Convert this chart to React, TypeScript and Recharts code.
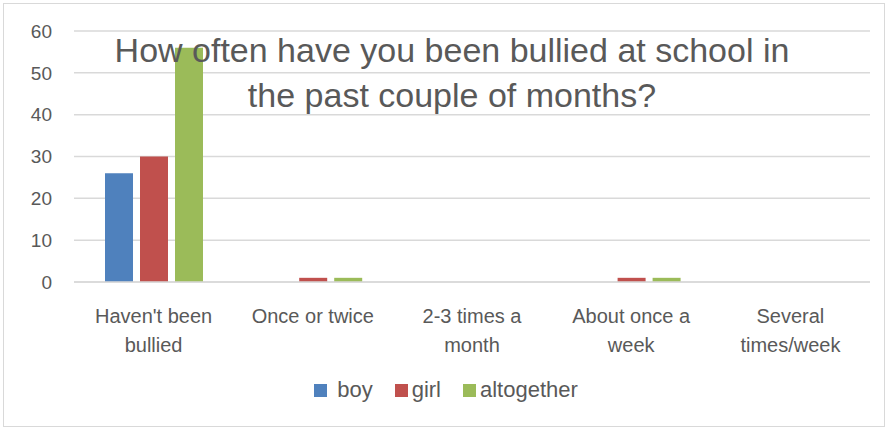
import React from 'react';
import { BarChart, Bar, XAxis, YAxis, CartesianGrid } from 'recharts';

const categories = ["Haven't been bullied", 'Once or twice', '2-3 times a month', 'About once a week', 'Several times/week'];
const tickLines = [["Haven't been", 'bullied'], ['Once or twice'], ['2-3 times a', 'month'], ['About once a', 'week'], ['Several', 'times/week']];
const seriesNames = ['boy', 'girl', 'altogether'];
const seriesColors = ['#4f81bd', '#c0504d', '#9bbb59'];
const boy = [26, 0, 0, 0, 0];
const girl = [30, 1, 0, 1, 0];
const altogether = [56, 1, 0, 1, 0];
const yTicks = [0, 10, 20, 30, 40, 50, 60];

const data = categories.map((name, i) => ({ name, boy: boy[i], girl: girl[i], altogether: altogether[i] }));

const FONT = '"Liberation Sans", Arial, sans-serif';
const TEXT = '#595959';

const XTick = (props: any) => {
    const { x, y, payload } = props;
    const lines = tickLines[payload.index] || [payload.value];
    return (
        <text x={x} y={y} textAnchor="middle" fill={TEXT} fontSize={20} fontFamily={FONT}>
            {lines.map((l, i) => (
                <tspan key={i} x={x} dy={i === 0 ? 33 : 29}>{l}</tspan>
            ))}
        </text>
    );
};

const App: React.FC = () => {
    return (
        <div style={{ position: 'relative', width: 889, height: 430, background: '#fff', fontFamily: FONT }}>
            <style>{'body{margin:0}'}</style>
            <div style={{ position: 'absolute', left: 3, top: 3, width: 880, height: 422, border: '1px solid #d9d9d9' }} />
            <BarChart
                width={889}
                height={430}
                data={data}
                margin={{ top: 31, right: 19, bottom: 58, left: 0 }}
                barSize={28}
                barGap={7}
            >
                <CartesianGrid vertical={false} stroke="#d9d9d9" strokeWidth={1.5} />
                <XAxis
                    dataKey="name"
                    axisLine={{ stroke: '#d9d9d9', strokeWidth: 1.5 }}
                    tickLine={false}
                    tick={<XTick />}
                    interval={0}
                    height={90}
                />
                <YAxis
                    width={74}
                    domain={[0, 60]}
                    ticks={yTicks}
                    axisLine={false}
                    tickLine={false}
                    tickSize={0}
                    tickMargin={22}
                    tick={{ fill: TEXT, fontSize: 19, fontFamily: FONT }}
                />
                <Bar dataKey="boy" name="boy" fill={seriesColors[0]} isAnimationActive={false} />
                <Bar dataKey="girl" name="girl" fill={seriesColors[1]} isAnimationActive={false} />
                <Bar dataKey="altogether" name="altogether" fill={seriesColors[2]} isAnimationActive={false} />
            </BarChart>
            <div
                style={{
                    position: 'absolute',
                    left: 0,
                    width: 904,
                    top: 28,
                    textAlign: 'center',
                    color: TEXT,
                    fontSize: 34,
                    lineHeight: '45px',
                    pointerEvents: 'none',
                }}
            >
                How often have you been bullied at school in
                <br />
                the past couple of months?
            </div>
            <div
                style={{
                    position: 'absolute',
                    left: 0,
                    width: 914,
                    top: 376,
                    display: 'flex',
                    justifyContent: 'center',
                    alignItems: 'center',
                    color: TEXT,
                    fontSize: 22,
                    lineHeight: '28px',
                }}
            >
                {seriesNames.map((n, i) => (
                    <span key={n} style={{ display: 'flex', alignItems: 'center', marginRight: 22 }}>
                        <span style={{ width: 13, height: 13, background: seriesColors[i], marginRight: i === 0 ? 10 : 4 }} />
                        {n}
                    </span>
                ))}
            </div>
        </div>
    );
};

export default App;
